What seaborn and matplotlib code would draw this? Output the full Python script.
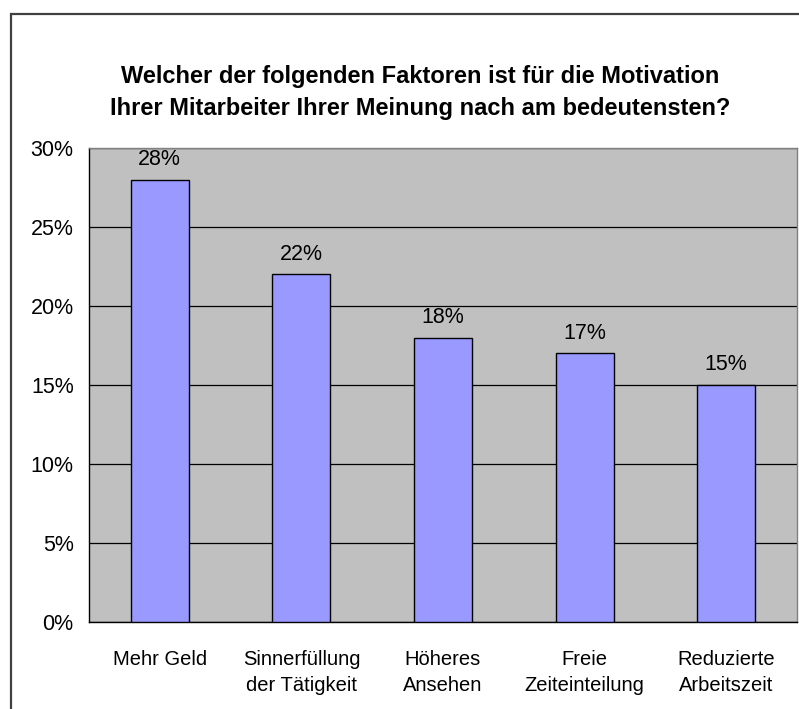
import matplotlib
matplotlib.use("Agg")
import matplotlib.pyplot as plt
import seaborn as sns
import pandas as pd
from matplotlib.patches import Rectangle
from matplotlib.ticker import FuncFormatter, MultipleLocator

# Data
categories = ["Mehr Geld", "Sinnerfüllung\nder Tätigkeit", "Höheres\nAnsehen",
              "Freie\nZeiteinteilung", "Reduzierte\nArbeitszeit"]
values = [28, 22, 18, 17, 15]
labels = ["28%", "22%", "18%", "17%", "15%"]

df = pd.DataFrame({"Faktor": categories, "Anteil": values})

sns.set_style("white")
plt.rcParams['font.family'] = ['Liberation Sans', 'DejaVu Sans']
plt.rcParams['text.color'] = 'black'
plt.rcParams['xtick.color'] = 'black'
plt.rcParams['ytick.color'] = 'black'
plt.rcParams['xtick.labelcolor'] = 'black'
plt.rcParams['ytick.labelcolor'] = 'black'

fig = plt.figure(figsize=(7.99, 7.09), dpi=100)
ax = fig.add_axes([89 / 799, 1 - 622 / 709, 708 / 799, 474 / 709])
ax.set_facecolor("#C0C0C0")

sns.barplot(data=df, x="Faktor", y="Anteil", color="#9999FF", width=0.41,
            edgecolor="black", linewidth=1.0, saturation=1, ax=ax, zorder=3)

ax.set_ylim(0, 30)
ax.set_xlim(-0.5, 4.5)
ax.yaxis.set_major_locator(MultipleLocator(5))
ax.yaxis.set_major_formatter(FuncFormatter(lambda v, p: f"{v:.0f}%"))
ax.grid(axis="y", color="black", linewidth=0.9, zorder=1)
ax.set_axisbelow(True)

# Category ticks sit between the bars, labels in the middle
ax.set_xticks([i - 0.5 for i in range(len(categories) + 1)], minor=False)
ax.set_xticklabels([])
ax.set_xticks(range(len(categories)), minor=True)
ax.set_xticklabels(categories, minor=True, fontsize=14.5, linespacing=1.45)
ax.tick_params(axis="x", which="major", length=6, width=1, color="black", direction="out")
ax.tick_params(axis="x", which="minor", length=0, pad=20)
ax.tick_params(axis="y", length=6, width=1, color="black", labelsize=15.5, pad=5)

ax.set_xlabel("")
ax.set_ylabel("")

for s in ["left", "bottom"]:
    ax.spines[s].set_color("black")
    ax.spines[s].set_linewidth(1)
for s in ["top", "right"]:
    ax.spines[s].set_color("#808080")
    ax.spines[s].set_linewidth(1)

for i, (v, t) in enumerate(zip(values, labels)):
    ax.annotate(t, (i, v), xytext=(0, 7), textcoords="offset points",
                ha="center", va="bottom", fontsize=15.5, color="black")

fig.text(420 / 799, 1 - 92 / 709,
         "Welcher der folgenden Faktoren ist für die Motivation\n"
         "Ihrer Mitarbeiter Ihrer Meinung nach am bedeutensten?",
         ha="center", va="center", fontsize=17, fontweight="bold",
         linespacing=1.5, color="black")

# chart area border (cut off on the right and bottom)
fig.patches.append(Rectangle((11 / 799, -0.05), 1.1, 1.05 - 14 / 709,
                             transform=fig.transFigure, fill=False,
                             edgecolor="#404040", linewidth=1.6))

fig.savefig("out.png", dpi=100)
